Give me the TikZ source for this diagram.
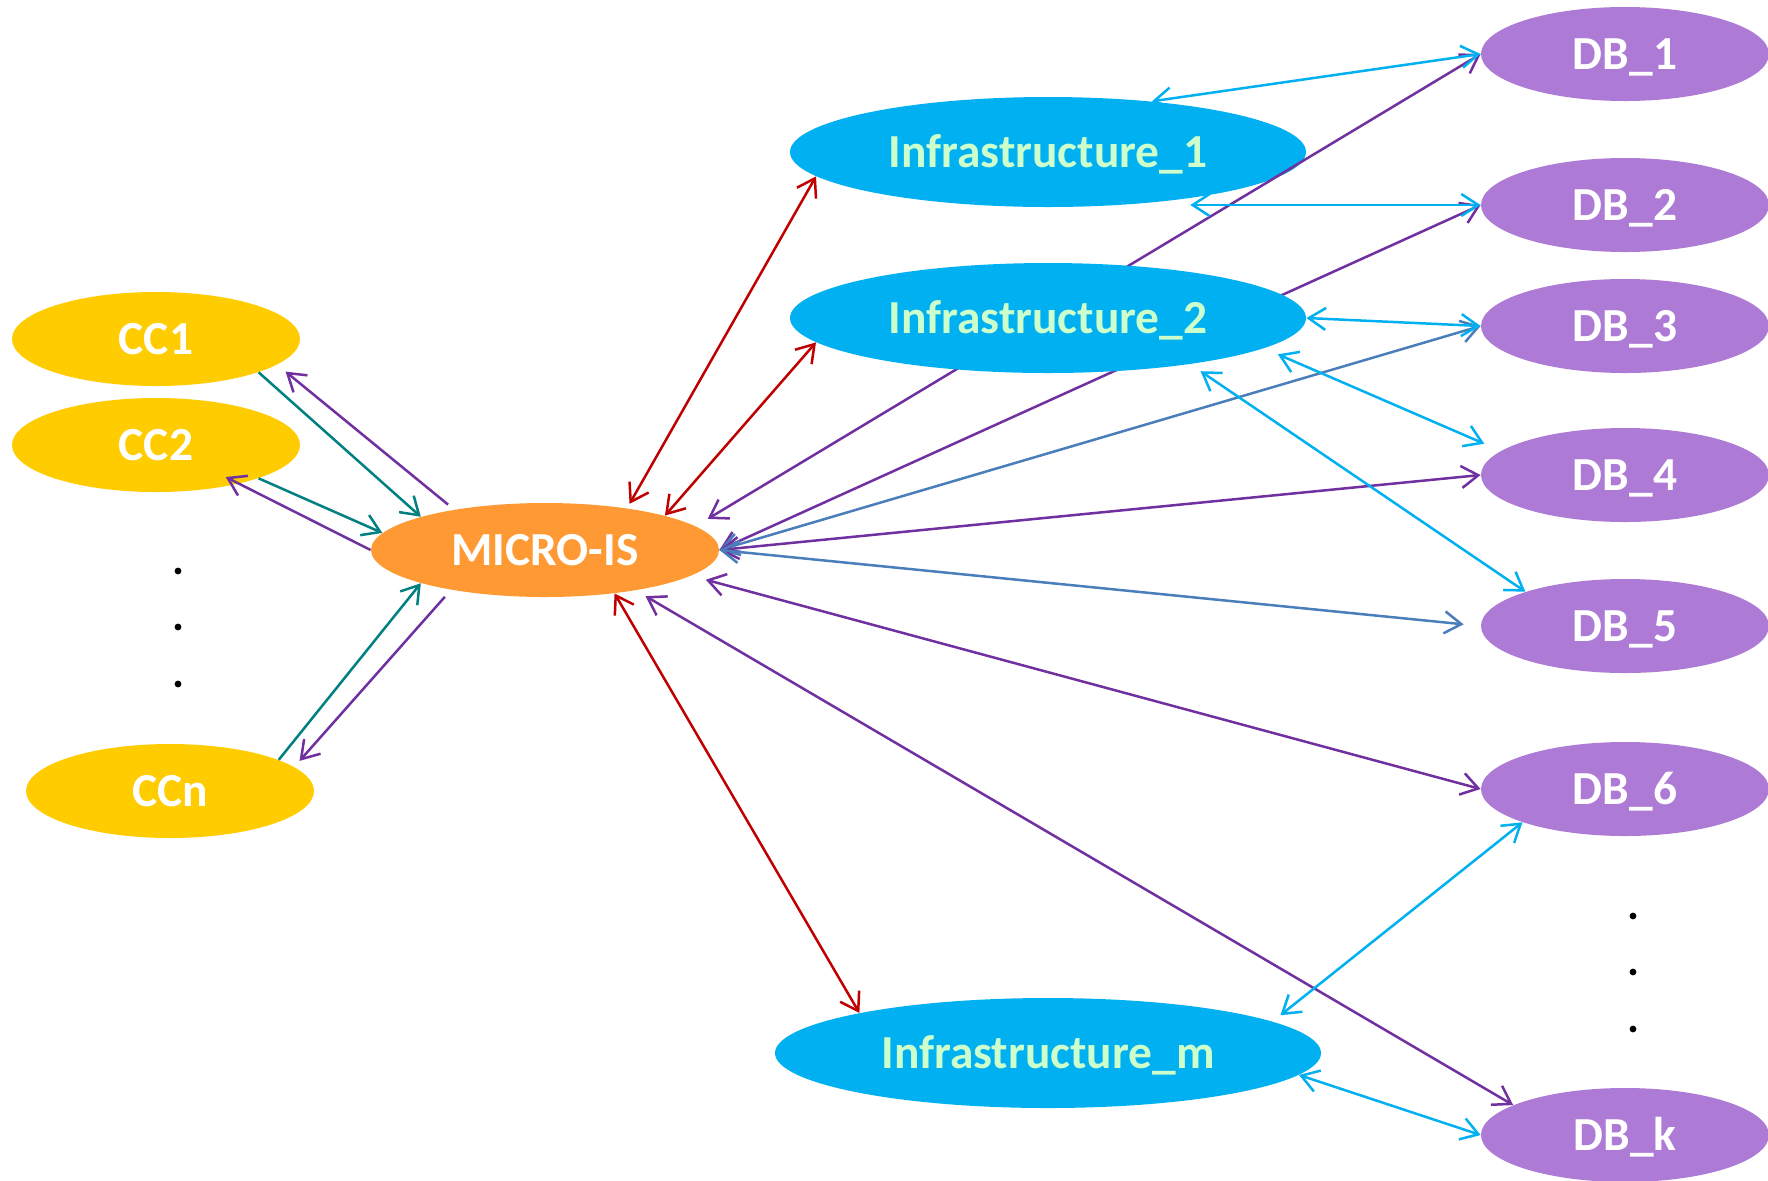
\documentclass[tikz,border=0pt]{standalone}
\usepackage{fontspec}
\setmainfont{Carlito}
\usetikzlibrary{shapes.geometric,arrows.meta}
\pgfdeclarelayer{lbg}
\pgfdeclarelayer{lzero}
\pgfdeclarelayer{lone}
\pgfsetlayers{lbg,lzero,lone,main}
\definecolor{ccyellow}{HTML}{FFCC00}
\definecolor{microorange}{HTML}{FF9933}
\definecolor{infblue}{HTML}{00B0F0}
\definecolor{inftext}{HTML}{CCFFCC}
\definecolor{dbpurple}{HTML}{AD7BD6}
\definecolor{tealc}{HTML}{008080}
\definecolor{purpc}{HTML}{7030A0}
\definecolor{redc}{HTML}{C00000}
\definecolor{lbluec}{HTML}{00B0F0}
\definecolor{steelc}{HTML}{4A7EBB}
\begin{document}
\begin{tikzpicture}[x=0.5pt,y=-0.5pt,
  >={Straight Barb[length=8.5pt,width=11pt]},
  ell/.style={ellipse,inner sep=0pt,text height=15.3pt,text depth=0pt,font=\fontsize{23.7}{28}\selectfont\bfseries},
  ccnode/.style={ell,fill=ccyellow,text=white,minimum width=144pt,minimum height=47pt},
  micronode/.style={ell,fill=microorange,text=white,minimum width=174pt,minimum height=47pt},
  infnode/.style={ell,fill=infblue,text=inftext,minimum width=258pt,minimum height=55pt},
  dbnode/.style={ell,fill=dbpurple,text=white,minimum width=144pt,minimum height=47pt},
  dotnode/.style={circle,fill=black,inner sep=0pt,minimum size=3.4pt},
  conn/.style={line width=1.25pt},
  tl/.style={conn,draw=tealc},
  pl/.style={conn,draw=purpc},
  rl/.style={conn,draw=redc},
  bl/.style={conn,draw=lbluec},
  sl/.style={conn,draw=steelc}]
\begin{pgfonlayer}{lbg}
\fill[white] (0,0) rectangle (1768,1180);
\end{pgfonlayer}
\useasboundingbox (0,0) rectangle (1768,1180);

% nodes
\node[ccnode] (cc1) at (156,339) {CC1};
\node[ccnode] (cc2) at (156,445) {CC2};
\node[ccnode] (ccn) at (170,791) {CCn};
\node[dotnode] (d1) at (178,571) {};
\node[dotnode] (d2) at (178,627) {};
\node[dotnode] (d3) at (178,684) {};
\node[micronode] (micro) at (545,550) {MICRO-IS};
\begin{pgfonlayer}{lzero}
\node[infnode] (inf1) at (1048,152) {Infrastructure\_1};
\end{pgfonlayer}
\node[infnode] (inf2) at (1048,318) {Infrastructure\_2};
\node[infnode,minimum width=273pt] (infm) at (1048,1053) {Infrastructure\_m};
\node[dbnode] (db1) at (1625,54) {DB\_1};
\node[dbnode] (db2) at (1625,205) {DB\_2};
\node[dbnode] (db3) at (1625,326) {DB\_3};
\node[dbnode] (db4) at (1625,475) {DB\_4};
\node[dbnode] (db5) at (1625,626) {DB\_5};
\node[dbnode] (db6) at (1625,789) {DB\_6};
\node[dbnode] (dbk) at (1625,1135) {DB\_k};
\node[dotnode] (e1) at (1633,916) {};
\node[dotnode] (e2) at (1633,972) {};
\node[dotnode] (e3) at (1633,1029) {};

% left side
\draw[tl,->] (cc1.-18.6) -- (micro.165.3);
\draw[pl,->,shorten <=3.9pt,shorten >=5.4pt] (micro.156.2) -- (cc1.-12.3);
\draw[tl,->] (cc2.-18.1) -- (micro.174.9);
\draw[pl,->,shorten >=-7.5pt] (micro.180) -- (cc2.-25.5);
\draw[tl,->] (ccn.16.9) -- (micro.195.6);
\draw[pl,->,shorten <=4.6pt,shorten >=4pt] (micro.203.9) -- (ccn.11);

% red
\draw[rl,<->,shorten <=2.5pt] (micro.27.4) -- (inf1.186.3);
\draw[rl,<->] (micro.16.3) -- (inf2.186);
\draw[rl,<->] (micro.-32.7) -- (infm.168.3);

% micro to databases
\begin{pgfonlayer}{lone}
\draw[pl,<->,shorten <=7pt] (micro.9.6) -- (db1.west);
\draw[pl,<->] (micro.east) -- (db2.west);
\end{pgfonlayer}
\draw[sl,<->] (micro.east) -- (db3.west);
\draw[pl,<->] (micro.east) -- (db4.west);
\draw[sl,<->,shorten >=8.5pt] (micro.east) -- (db5.west);
\draw[pl,<->,shorten <=7.5pt] (micro.-10.2) -- (db6.west);
\draw[pl,<->,shorten <=5.6pt] (micro.-24.05) -- (dbk.165.3);

% infrastructures to databases
\draw[bl,<->] (inf1.26.3) -- (db1.west);
\draw[bl,<->] (db2.west -| inf1.-18) -- (db2.west);
\draw[bl,<->] (inf2.east) -- (db3.west);
\draw[bl,<->,shorten <=7.5pt,shorten >=9pt] (inf2.-8.3) -- (db4.169.8);
\draw[bl,<->,shorten <=6.2pt] (inf2.-18.1) -- (db5.161.9);
\draw[bl,<->,shorten <=5pt] (infm.8.6) -- (db6.198.6);
\draw[bl,<->] (infm.-5.7) -- (dbk.west);
\end{tikzpicture}
\end{document}
